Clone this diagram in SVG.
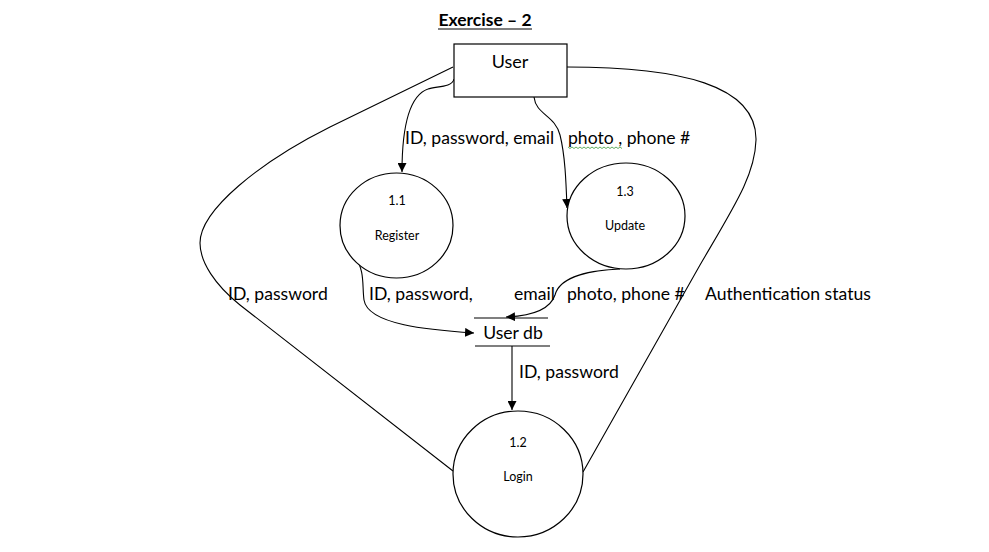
<svg xmlns="http://www.w3.org/2000/svg" width="989" height="552" viewBox="0 0 989 552">
<style>
text{font-family:Lato,"Open Sans","Liberation Sans",sans-serif;fill:#000}
.lbl{font-size:17.6px}
.sm{font-size:12.5px;text-anchor:middle}
.shape{fill:#fff;stroke:#000;stroke-width:1.2}
.con{fill:none;stroke:#000;stroke-width:1.1}
.arr{marker-end:url(#ah)}
</style>
<defs>
<marker id="ah" viewBox="0 0 10 10" refX="10" refY="5" markerWidth="9" markerHeight="9" markerUnits="userSpaceOnUse" orient="auto">
<path d="M0,0 L10,5 L0,10 z" fill="#000"/>
</marker>
</defs>
<rect width="989" height="552" fill="#fff"/>
<g id="title">
<text x="485" y="26" text-anchor="middle" style="font-size:17.5px;font-weight:bold">Exercise – 2</text>
<line x1="438" y1="29" x2="532" y2="29" stroke="#000" stroke-width="1.2"/>
</g>
<g id="connectors">
<path class="con arr" d="M454,79 C452,88 435,86 428,89 C408,96 402,130 402,172"/>
<path class="con arr" d="M534,97 C536,115 555,115 560,135 C565,155 566,180 567,208"/>
<path class="con arr" d="M355,258 C365,270 362,285 364,300 C368,325 430,330 474,333"/>
<path class="con arr" d="M620,269 C595,270 560,275 555,295 C550,310 530,316 506,317"/>
<path class="con arr" d="M512,346 L512,410"/>
<path class="con" d="M453,67 L330,127 C260,162 200,210 200,243 C200,262 215,285 240,305 L453,471"/>
<path class="con" d="M567,67 C680,67 757,85 756,140 C755,175 735,205 700,265 L583,472"/>
</g>
<g id="user">
<rect class="shape" x="454" y="44" width="113" height="53"/>
<text x="510" y="68" text-anchor="middle" style="font-size:18px">User</text>
</g>
<g id="register">
<ellipse class="shape" cx="396.5" cy="225.5" rx="56.5" ry="52.5"/>
<text class="sm" x="397" y="205">1.1</text>
<text class="sm" x="397" y="240">Register</text>
</g>
<g id="update">
<ellipse class="shape" cx="626" cy="216" rx="59" ry="53"/>
<text class="sm" x="625" y="196">1.3</text>
<text class="sm" x="625" y="230">Update</text>
</g>
<g id="userdb">
<line x1="474" y1="318" x2="548" y2="318" stroke="#000" stroke-width="1.2"/>
<line x1="475" y1="346" x2="550" y2="346" stroke="#000" stroke-width="1.2"/>
<text x="513" y="339" text-anchor="middle" style="font-size:17.6px">User db</text>
</g>
<g id="login">
<ellipse class="shape" cx="518" cy="474" rx="65" ry="63"/>
<text class="sm" x="518" y="447">1.2</text>
<text class="sm" x="518" y="481">Login</text>
</g>
<g id="labels">
<text class="lbl" x="405" y="144">ID, password, email</text>
<text class="lbl" x="568" y="144">photo , phone #</text>
<path d="M568,147 l2,1.5 l2,-1.5 l2,1.5 l2,-1.5 l2,1.5 l2,-1.5 l2,1.5 l2,-1.5 l2,1.5 l2,-1.5 l2,1.5 l2,-1.5 l2,1.5 l2,-1.5 l2,1.5 l2,-1.5 l2,1.5 l2,-1.5 l2,1.5 l2,-1.5 l2,1.5 l2,-1.5 l2,1.5 l2,-1.5 l2,1.5 l2,-1.5 l2,1.5" fill="none" stroke="#3a9a3a" stroke-width="0.8"/>
<text class="lbl" x="228" y="300">ID, password</text>
<text class="lbl" x="369" y="300">ID, password,</text>
<text class="lbl" x="514" y="300">email</text>
<text class="lbl" x="567" y="300">photo, phone #</text>
<text class="lbl" x="705" y="300">Authentication status</text>
<text class="lbl" x="519" y="378">ID, password</text>
</g>
</svg>
